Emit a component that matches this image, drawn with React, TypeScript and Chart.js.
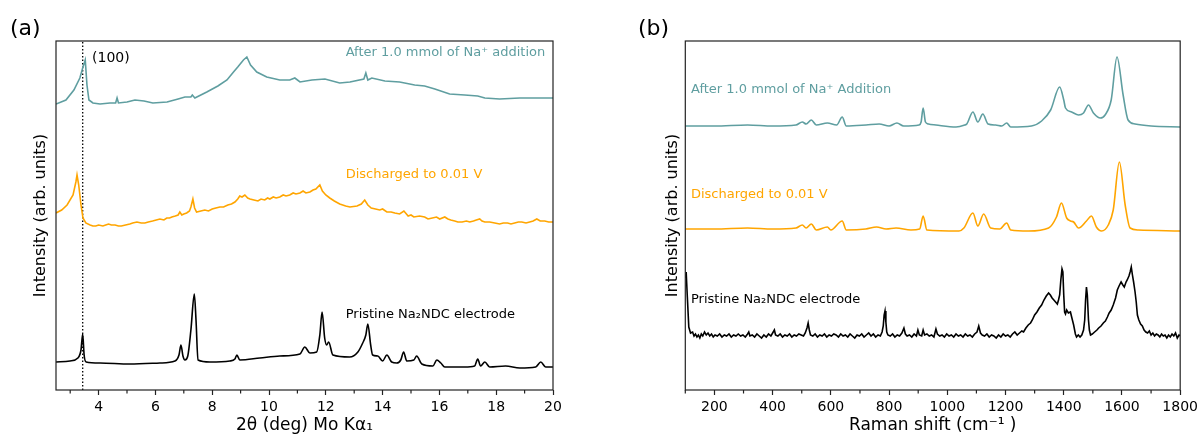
import React, { useEffect, useRef } from 'react';
import { Chart, registerables } from 'chart.js';

Chart.register(...registerables);

const FONT = '"DejaVu Sans", "Noto Sans", sans-serif';

// ---------------- Panel (a): XRD ----------------
const xrdTicks = [4, 6, 8, 10, 12, 14, 16, 18, 20];
const xrdMinorTicks = [3, 5, 7, 9, 11, 13, 15, 17, 19];
const xrd100Position = [3.44];

const xrdAfterTheta = [2.5, 2.85, 3.13, 3.34, 3.45, 3.53, 3.59, 3.66, 3.8, 4.05, 4.4, 4.6, 4.65, 4.7, 5.0, 5.28, 5.6, 5.91, 6.41, 6.8, 7.04, 7.25, 7.3, 7.39, 7.81, 8.2, 8.52, 8.75, 8.9, 9.1, 9.22, 9.35, 9.57, 9.92, 10.38, 10.73, 10.91, 11.09, 11.51, 11.97, 12.49, 12.85, 13.34, 13.41, 13.48, 13.62, 14.08, 14.6, 15.13, 15.48, 15.84, 16.36, 16.89, 17.35, 17.6, 18.12, 18.83, 19.35, 20.0];
const xrdAfterInt = [286, 290, 300, 312, 323, 330, 305, 290, 287, 286, 287, 287, 292, 287, 288, 290, 289, 287, 288, 291, 293, 293, 295, 292, 298, 304, 310, 318, 323, 330, 333, 325, 318, 313, 310, 310, 312, 308, 310, 311, 307, 308, 311, 317, 310, 312, 309, 308, 305, 304, 301, 296, 295, 294, 292, 291, 292, 292, 292];

const xrdDischTheta = [2.5, 2.7, 2.89, 3.1, 3.2, 3.24, 3.3, 3.38, 3.45, 3.55, 3.7, 3.8, 3.9, 4.0, 4.15, 4.25, 4.35, 4.45, 4.58, 4.7, 4.8, 4.95, 5.1, 5.2, 5.35, 5.5, 5.63, 5.75, 5.9, 6.03, 6.16, 6.3, 6.4, 6.5, 6.58, 6.7, 6.8, 6.86, 6.93, 7.0, 7.1, 7.2, 7.25, 7.32, 7.38, 7.45, 7.6, 7.74, 7.87, 8.0, 8.13, 8.27, 8.4, 8.55, 8.68, 8.8, 8.9, 8.97, 9.05, 9.15, 9.25, 9.33, 9.47, 9.61, 9.72, 9.85, 9.95, 10.03, 10.15, 10.25, 10.38, 10.5, 10.6, 10.73, 10.85, 10.95, 11.09, 11.2, 11.3, 11.44, 11.55, 11.65, 11.79, 11.88, 12.0, 12.14, 12.3, 12.49, 12.7, 12.85, 13.1, 13.25, 13.37, 13.48, 13.6, 13.75, 13.9, 14.0, 14.15, 14.3, 14.43, 14.6, 14.75, 14.9, 15.0, 15.1, 15.3, 15.48, 15.6, 15.75, 15.9, 16.01, 16.19, 16.3, 16.4, 16.54, 16.65, 16.8, 16.95, 17.07, 17.2, 17.3, 17.42, 17.5, 17.6, 17.77, 17.95, 18.12, 18.25, 18.4, 18.52, 18.65, 18.78, 18.9, 19.05, 19.18, 19.3, 19.43, 19.55, 19.71, 19.85, 20.0];
const xrdDischInt = [177, 180, 185, 195, 208, 215, 205, 185, 172, 167, 165, 164, 164, 165, 164, 165, 166, 165, 165, 164, 164, 165, 166, 167, 168, 167, 167, 168, 169, 170, 171, 170, 172, 172, 173, 174, 175, 178, 175, 176, 177, 179, 183, 191, 182, 178, 179, 180, 179, 181, 182, 183, 183, 185, 186, 188, 191, 194, 193, 195, 192, 191, 190, 189, 191, 190, 192, 191, 193, 192, 193, 195, 194, 195, 197, 196, 197, 199, 197, 198, 200, 201, 205, 199, 195, 192, 189, 186, 184, 183, 184, 186, 190, 185, 182, 181, 180, 181, 178, 178, 177, 176, 179, 174, 175, 173, 174, 173, 171, 172, 173, 171, 173, 171, 170, 169, 168, 168, 169, 168, 169, 170, 171, 169, 168, 168, 167, 166, 167, 167, 166, 167, 168, 168, 167, 168, 169, 171, 169, 169, 168, 168];

const xrdPristTheta = [2.5, 2.99, 3.27, 3.38, 3.44, 3.49, 3.56, 4.05, 5.1, 6.16, 6.69, 6.83, 6.9, 6.97, 7.04, 7.14, 7.25, 7.37, 7.43, 7.5, 7.92, 8.62, 8.8, 8.87, 8.97, 9.68, 10.38, 11.09, 11.26, 11.44, 11.68, 11.79, 11.87, 11.96, 12.03, 12.1, 12.25, 12.84, 13.13, 13.3, 13.41, 13.48, 13.58, 13.65, 13.83, 14.0, 14.15, 14.32, 14.5, 14.64, 14.74, 14.85, 15.1, 15.2, 15.38, 15.77, 15.91, 16.05, 16.19, 16.89, 17.24, 17.35, 17.45, 17.6, 17.77, 18.33, 18.83, 19.39, 19.57, 19.74, 20.0];
const xrdPristInt = [28, 29, 32, 40, 56, 35, 28, 27, 26, 27, 29, 35, 45, 34, 30, 34, 60, 96, 70, 30, 28, 29, 31, 35, 30, 32, 34, 36, 43, 37, 38, 55, 78, 52, 45, 48, 35, 33, 38, 47, 55, 66, 45, 35, 34, 29, 35, 28, 27, 30, 38, 29, 30, 34, 26, 24, 30, 27, 23, 23, 24, 31, 24, 28, 23, 24, 22, 23, 28, 23, 23];

// ---------------- Panel (b): Raman ----------------
const ramanTicks = [200, 400, 600, 800, 1000, 1200, 1400, 1600, 1800];
const ramanMinorTicks = [100, 300, 500, 700, 900, 1100, 1300, 1500, 1700];

const ramanAfterShift = [100, 200, 314, 400, 480, 502, 515, 533, 550, 588, 620, 639, 653, 721, 766, 800, 827, 850, 903, 910, 917, 925, 935, 961, 1030, 1060, 1067, 1088, 1105, 1122, 1140, 1166, 1187, 1204, 1218, 1289, 1324, 1355, 1386, 1400, 1406, 1427, 1451, 1468, 1485, 1502, 1526, 1542, 1563, 1583, 1604, 1621, 1645, 1700, 1800];
const ramanAfterInt = [264, 264, 265, 264, 265, 268, 266, 270, 265, 267, 265, 273, 264, 265, 266, 264, 267, 264, 265, 268, 282, 268, 266, 265, 263, 265, 266, 278, 268, 276, 266, 265, 264, 267, 263, 264, 269, 280, 303, 290, 282, 278, 275, 277, 285, 277, 272, 275, 290, 333, 295, 270, 266, 264, 263];

const ramanDischShift = [100, 200, 314, 400, 480, 502, 515, 533, 550, 588, 600, 639, 653, 720, 757, 790, 824, 875, 905, 917, 930, 1040, 1057, 1088, 1105, 1125, 1149, 1180, 1204, 1218, 1279, 1348, 1375, 1392, 1410, 1423, 1434, 1451, 1478, 1495, 1512, 1530, 1553, 1570, 1591, 1611, 1628, 1656, 1800];
const ramanDischInt = [161, 161, 162, 161, 162, 165, 162, 166, 160, 163, 160, 169, 160, 161, 163, 161, 162, 160, 161, 174, 160, 159, 162, 177, 164, 176, 162, 161, 167, 160, 159, 162, 173, 187, 172, 169, 168, 162, 169, 174, 163, 159, 165, 180, 228, 185, 162, 160, 159];

const ramanPristShift = [100, 103, 107, 112, 118, 125, 130, 135, 140, 145, 150, 155, 160, 166, 172, 178, 184, 190, 196, 202, 210, 218, 226, 234, 242, 250, 258, 266, 274, 282, 290, 298, 306, 314, 318, 322, 330, 338, 346, 354, 362, 370, 378, 386, 394, 400, 406, 410, 418, 426, 434, 442, 450, 458, 466, 474, 482, 490, 498, 506, 512, 518, 522, 526, 530, 538, 546, 554, 562, 570, 578, 586, 594, 602, 610, 618, 626, 634, 642, 650, 658, 666, 674, 682, 690, 698, 706, 714, 722, 730, 738, 746, 754, 762, 770, 776, 780, 783, 786, 789, 792, 796, 804, 812, 820, 828, 836, 844, 851, 856, 862, 870, 878, 886, 894, 899, 904, 912, 917, 922, 930, 938, 946, 954, 961, 966, 974, 982, 990, 998, 1006, 1014, 1022, 1030, 1038, 1046, 1054, 1062, 1070, 1078, 1086, 1094, 1102, 1108, 1114, 1120, 1128, 1136, 1144, 1152, 1160, 1168, 1176, 1184, 1192, 1200, 1208, 1216, 1224, 1232, 1240, 1248, 1256, 1262, 1270, 1278, 1286, 1292, 1300, 1308, 1316, 1324, 1332, 1340, 1348, 1354, 1360, 1366, 1372, 1378, 1382, 1386, 1390, 1394, 1397, 1400, 1403, 1406, 1410, 1416, 1423, 1428, 1434, 1440, 1444, 1450, 1456, 1462, 1468, 1472, 1475, 1478, 1481, 1485, 1488, 1492, 1498, 1506, 1514, 1520, 1528, 1536, 1543, 1550, 1556, 1563, 1570, 1578, 1584, 1590, 1597, 1603, 1608, 1614, 1618, 1624, 1628, 1632, 1636, 1640, 1645, 1649, 1653, 1658, 1664, 1670, 1676, 1682, 1688, 1694, 1700, 1706, 1712, 1718, 1724, 1730, 1736, 1742, 1748, 1754, 1760, 1766, 1772, 1778, 1784, 1790, 1796, 1800];
const ramanPristInt = [112, 118, 93, 63, 57, 58, 54, 56, 53, 55, 52, 56, 54, 58, 55, 57, 54, 56, 53, 55, 54, 56, 53, 55, 54, 56, 53, 55, 54, 56, 54, 55, 53, 56, 58, 54, 55, 53, 56, 54, 52, 55, 53, 56, 54, 57, 60, 55, 54, 56, 53, 55, 54, 56, 53, 55, 54, 56, 55, 54, 57, 62, 67, 60, 55, 54, 56, 53, 55, 54, 56, 53, 55, 54, 56, 55, 53, 56, 54, 55, 53, 56, 54, 52, 55, 54, 56, 53, 55, 57, 54, 56, 53, 55, 54, 58, 64, 75, 79, 68, 58, 55, 54, 56, 53, 55, 54, 57, 62, 56, 54, 55, 53, 56, 54, 60, 55, 54, 60, 55, 56, 54, 55, 53, 61, 56, 54, 55, 53, 56, 54, 55, 53, 56, 54, 55, 53, 56, 54, 55, 53, 56, 58, 64, 57, 55, 54, 56, 53, 55, 54, 52, 55, 53, 56, 54, 55, 53, 56, 58, 55, 57, 59, 58, 62, 65, 67, 70, 75, 78, 82, 85, 90, 94, 97, 95, 92, 90, 88, 86, 90, 95, 110, 121, 118, 95, 78, 76, 80, 77, 78, 72, 65, 56, 53, 55, 53, 55, 60, 70, 90, 103, 95, 70, 60, 55, 56, 58, 60, 62, 64, 67, 69, 73, 77, 80, 85, 92, 100, 104, 108, 105, 103, 108, 110, 114, 118, 123, 115, 108, 98, 88, 75, 70, 66, 64, 60, 58, 57, 59, 55, 57, 54, 56, 55, 53, 56, 54, 55, 52, 55, 53, 56, 54, 57, 52, 55, 54];

// Annotation texts (data coordinates)
const xrdLabelText = ['(100)', 'After 1.0 mmol of Na\u207A addition', 'Discharged to 0.01 V', 'Pristine Na\u2082NDC electrode'];
const xrdLabelX = [3.77, 12.7, 12.7, 12.7];
const xrdLabelY = [332, 337, 215, 75];
const ramanLabelText = ['After 1.0 mmol of Na\u207A Addition', 'Discharged to 0.01 V', 'Pristine Na\u2082NDC electrode'];
const ramanLabelX = [119.5, 119.5, 119.5];
const ramanLabelY = [300, 195, 90];

const TEAL = '#5F9EA0';
const ORANGE = '#FFA500';
const BLACK = '#000000';

const zip = (xs: number[], ys: number[]) => xs.map((x, i) => ({ x, y: ys[i] }));

type Label = { text: string; x: number; y: number; color: string; size: number };

type PanelSpec = {
  left: number;
  width: number;
  padLeft: number;
  padRight: number;
  yWidth: number;
  xMin: number;
  xMax: number;
  majors: number[];
  minors: number[];
  xTitle: string;
  tag: string;
  tagX: number;
  datasets: any[];
  labels: Label[];
};

function makeOverlay(spec: PanelSpec) {
  return {
    id: 'overlay' + spec.tag,
    afterDraw(chart: any) {
      const { ctx, chartArea } = chart;
      const { left, right, top, bottom } = chartArea;
      const xs = chart.scales.x;
      const ys = chart.scales.y;
      ctx.save();
      ctx.strokeStyle = '#222';
      ctx.lineWidth = 1.2;
      ctx.strokeRect(left, top, right - left, bottom - top);
      spec.minors.forEach((v) => {
        const px = xs.getPixelForValue(v);
        ctx.beginPath();
        ctx.moveTo(px, bottom);
        ctx.lineTo(px, bottom + 3.5);
        ctx.stroke();
      });
      ctx.textAlign = 'left';
      ctx.textBaseline = 'middle';
      spec.labels.forEach((l) => {
        ctx.font = `${l.size}px ${FONT}`;
        ctx.fillStyle = l.color;
        ctx.fillText(l.text, xs.getPixelForValue(l.x), ys.getPixelForValue(l.y));
      });
      ctx.font = `22px ${FONT}`;
      ctx.fillStyle = '#000';
      ctx.fillText(spec.tag, spec.tagX, 29);
      ctx.restore();
    },
  };
}

function Panel({ spec }: { spec: PanelSpec }) {
  const ref = useRef<HTMLCanvasElement>(null);
  useEffect(() => {
    if (!ref.current) return;
    const chart = new Chart(ref.current, {
      type: 'line',
      data: { datasets: spec.datasets },
      options: {
        animation: false,
        responsive: false,
        devicePixelRatio: 1,
        events: [],
        layout: { padding: { left: spec.padLeft, right: spec.padRight, top: 41, bottom: 0 } },
        plugins: { legend: { display: false }, tooltip: { enabled: false } },
        elements: { point: { radius: 0 } },
        scales: {
          x: {
            type: 'linear',
            min: spec.xMin,
            max: spec.xMax,
            afterBuildTicks: (s: any) => {
              s.ticks = spec.majors.map((v) => ({ value: v }));
            },
            afterFit: (s: any) => {
              s.height = 47;
            },
            ticks: {
              autoSkip: false,
              maxRotation: 0,
              padding: 4,
              color: '#000',
              font: { family: FONT, size: 14 },
              callback: (v: any) => String(v),
            },
            grid: {
              display: true,
              drawOnChartArea: false,
              drawTicks: true,
              tickLength: 5,
              tickWidth: 1.2,
              tickColor: '#222',
            },
            border: { display: false },
            title: {
              display: true,
              text: spec.xTitle,
              color: '#000',
              font: { family: FONT, size: 17 },
              padding: { top: 0, bottom: 1 },
            },
          },
          y: {
            type: 'linear',
            min: 0,
            max: 349,
            afterFit: (s: any) => {
              s.width = spec.yWidth;
            },
            ticks: { display: false },
            grid: { display: false },
            border: { display: false },
            title: {
              display: true,
              text: 'Intensity (arb. units)',
              color: '#000',
              font: { family: FONT, size: 16 },
              padding: { top: 0, bottom: 0 },
            },
          },
        },
      } as any,
      plugins: [makeOverlay(spec)],
    });
    return () => chart.destroy();
  }, []);
  return (
    <canvas
      ref={ref}
      width={spec.width}
      height={437}
      style={{ position: 'absolute', left: spec.left, top: 0, width: spec.width, height: 437, display: 'block' }}
    />
  );
}

const lineStyle = (color: string, smooth: boolean) => ({
  borderColor: color,
  borderWidth: 1.6,
  pointRadius: 0,
  fill: false,
  tension: smooth ? 0.3 : 0,
  cubicInterpolationMode: smooth ? 'monotone' : 'default',
});

const xrdSpec: PanelSpec = {
  left: 0,
  width: 600,
  padLeft: 31.4,
  padRight: 47,
  yWidth: 24.6,
  xMin: 2.5,
  xMax: 20,
  majors: xrdTicks,
  minors: xrdMinorTicks,
  xTitle: '2\u03B8 (deg) Mo K\u03B1\u2081',
  tag: '(a)',
  tagX: 10,
  datasets: [
    { data: zip(xrdAfterTheta, xrdAfterInt), ...lineStyle(TEAL, false) },
    { data: zip(xrdDischTheta, xrdDischInt), ...lineStyle(ORANGE, false) },
    { data: zip(xrdPristTheta, xrdPristInt), ...lineStyle(BLACK, true) },
    {
      data: [
        { x: xrd100Position[0], y: 0 },
        { x: xrd100Position[0], y: 349 },
      ],
      borderColor: '#000',
      borderWidth: 1.3,
      borderDash: [1.5, 2],
      pointRadius: 0,
      fill: false,
    },
  ],
  labels: xrdLabelText.map((t, i) => ({
    text: t,
    x: xrdLabelX[i],
    y: xrdLabelY[i],
    color: i === 0 ? '#000' : i === 1 ? TEAL : i === 2 ? ORANGE : '#000',
    size: i === 0 ? 14 : 13,
  })),
};

const ramanSpec: PanelSpec = {
  left: 600,
  width: 602,
  padLeft: 62.9,
  padRight: 20,
  yWidth: 22.4,
  xMin: 100,
  xMax: 1800,
  majors: ramanTicks,
  minors: ramanMinorTicks,
  xTitle: 'Raman shift (cm\u207B\u00B9 )',
  tag: '(b)',
  tagX: 38,
  datasets: [
    { data: zip(ramanAfterShift, ramanAfterInt), ...lineStyle(TEAL, true) },
    { data: zip(ramanDischShift, ramanDischInt), ...lineStyle(ORANGE, true) },
    { data: zip(ramanPristShift, ramanPristInt), ...lineStyle(BLACK, false) },
  ],
  labels: ramanLabelText.map((t, i) => ({
    text: t,
    x: ramanLabelX[i],
    y: ramanLabelY[i],
    color: i === 0 ? TEAL : i === 1 ? ORANGE : '#000',
    size: 13,
  })),
};

export default function App() {
  return (
    <div style={{ position: 'fixed', left: 0, top: 0, width: 1202, height: 437, background: '#fff', overflow: 'hidden' }}>
      <Panel spec={xrdSpec} />
      <Panel spec={ramanSpec} />
    </div>
  );
}
